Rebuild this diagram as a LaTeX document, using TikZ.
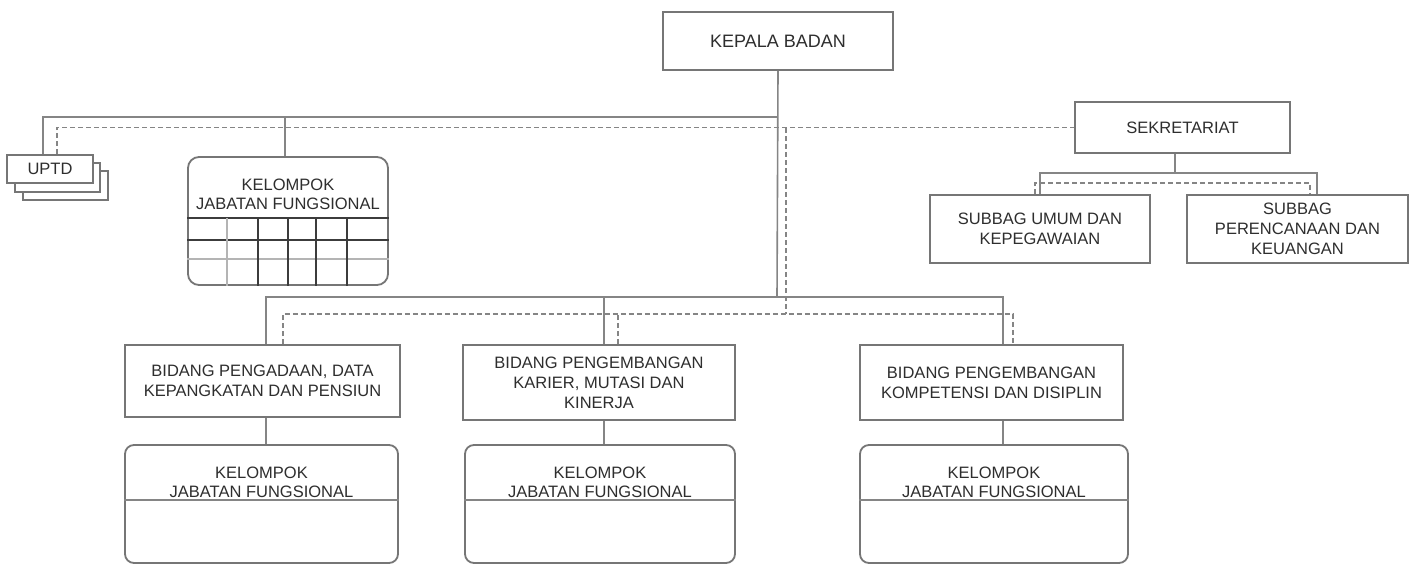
\documentclass[tikz,border=0pt]{standalone}
\usepackage{fontspec}
\setmainfont{Liberation Sans}
\definecolor{boxgray}{HTML}{767676}
\definecolor{linegray}{HTML}{858585}
\definecolor{gridgray}{HTML}{3C3C3C}
\definecolor{lightgrid}{HTML}{B4B4B4}
\definecolor{txt}{HTML}{2E2E2E}
\begin{document}
\begin{tikzpicture}[x=1pt,y=-1pt,
  box/.style={draw=boxgray, line width=1.8pt, fill=white, align=center,
    inner sep=0pt, text=txt, font=\fontsize{16.5}{20}\selectfont},
  rbox/.style={box, rounded corners=11pt},
  lbl/.style={align=center, inner sep=0pt, text=txt, font=\fontsize{16.5}{19}\selectfont},
  solidline/.style={draw=linegray, line width=1.6pt},
  dashline/.style={draw=linegray, line width=1.6pt, dash pattern=on 5pt off 3pt},
  gridline/.style={draw=gridgray, line width=1.4pt},
]
\useasboundingbox (0,0) rectangle (1424,566);
\fill[white] (0,0) rectangle (1424,566);

% head of the agency
\node[box, minimum width=230pt, minimum height=58pt, font=\fontsize{18}{20}\selectfont]
  (kepala) at (778,41) {KEPALA BADAN};

% secretariat and its sub-sections
\node[box, minimum width=215pt, minimum height=51pt] (sek) at (1182.5,127.5) {SEKRETARIAT};
\node[box, minimum width=220pt, minimum height=68pt] (s1) at (1040,229)
  {SUBBAG UMUM DAN\\KEPEGAWAIAN};
\node[box, minimum width=221pt, minimum height=68pt] (s2) at (1297.5,229)
  {SUBBAG\\PERENCANAAN DAN\\KEUANGAN};

% technical units (stacked sheets)
\node[box, minimum width=85pt, minimum height=29pt] (uptd3) at (65.5,185.5) {};
\node[box, minimum width=85pt, minimum height=29pt] (uptd2) at (57.5,177.5) {};
\node[box, minimum width=86pt, minimum height=28pt] (uptd) at (50,169) {UPTD};

% functional group under the head
\node[rbox, minimum width=200pt, minimum height=128pt] (kjf0) at (288,221) {};
\node[lbl] (kjf0t) at (288,194) {KELOMPOK\\JABATAN FUNGSIONAL};
\draw[gridline] (kjf0.west |- 0,218) -- (kjf0.east |- 0,218);
\draw[gridline] (kjf0.west |- 0,240) -- (kjf0.east |- 0,240);
\draw[draw=lightgrid, line width=1.4pt] (kjf0.west |- 0,259) -- (kjf0.east |- 0,259);
\draw[draw=lightgrid, line width=1.4pt] (227,218) -- (227,218 |- kjf0.south);
\foreach \gx in {258,288,316,347}
  \draw[gridline] (\gx,218) -- (\gx,218 |- kjf0.south);

% divisions
\node[box, minimum width=275pt, minimum height=72pt] (b1) at (262.5,381)
  {BIDANG PENGADAAN, DATA\\KEPANGKATAN DAN PENSIUN};
\node[box, minimum width=272pt, minimum height=75pt] (b2) at (599,382.5)
  {BIDANG PENGEMBANGAN\\KARIER, MUTASI DAN\\KINERJA};
\node[box, minimum width=263pt, minimum height=75pt] (b3) at (991.5,382.5)
  {BIDANG PENGEMBANGAN\\KOMPETENSI DAN DISIPLIN};

% functional groups under the divisions
\node[rbox, rounded corners=9pt, minimum width=273pt, minimum height=118pt] (k1) at (261.5,504) {};
\node[rbox, rounded corners=9pt, minimum width=270pt, minimum height=118pt] (k2) at (600,504) {};
\node[rbox, rounded corners=9pt, minimum width=268pt, minimum height=118pt] (k3) at (994,504) {};
\node[lbl] (k1t) at (261.5,482) {KELOMPOK\\JABATAN FUNGSIONAL};
\node[lbl] (k2t) at (600,482) {KELOMPOK\\JABATAN FUNGSIONAL};
\node[lbl] (k3t) at (994,482) {KELOMPOK\\JABATAN FUNGSIONAL};
\foreach \k in {k1,k2,k3}
  \draw[solidline] (\k.west |- 0,500) -- (\k.east |- 0,500);

% junctions of the lines of command
\coordinate (tl) at (777,117);
\coordinate (bt) at (777,297);
\coordinate (sj) at (1175,173);
\coordinate (dj) at (786,128);
\coordinate (dbt) at (786,314);

% lines of command (solid)
\draw[solidline] (kepala.south) -- (bt);
\draw[solidline] (tl) -| ([xshift=-7pt]uptd.north);
\draw[solidline] ([xshift=-3pt]kjf0.north) -- ([xshift=-3pt]kjf0.north |- tl);
\draw[solidline] ([xshift=3.5pt]b1.north) |- (bt) -| ([xshift=11.5pt]b3.north);
\draw[solidline] ([xshift=5pt]b2.north) -- ([xshift=5pt]b2.north |- bt);
\draw[solidline] ([xshift=3.5pt]b1.south) -- ([xshift=3.5pt]b1.south |- k1.north);
\draw[solidline] ([xshift=5pt]b2.south) -- ([xshift=5pt]b2.south |- k2.north);
\draw[solidline] ([xshift=11.5pt]b3.south) -- ([xshift=11.5pt]b3.south |- k3.north);
\draw[solidline] (sek.south -| sj) -- (sj);
\draw[solidline] (s1.north) |- (sj) -| ([xshift=19.5pt]s2.north);

% lines of coordination (dashed)
\draw[dashline] ([xshift=7pt]uptd.north) |- (sek.west);
\draw[dashline] (dj) -- (dbt);
\draw[dashline] ([xshift=20.5pt]b1.north) |- (dbt) -| ([xshift=21.5pt]b3.north);
\draw[dashline] ([xshift=19pt]b2.north) -- ([xshift=19pt]b2.north |- dbt);
\draw[dashline] ([xshift=-5pt]s1.north) -- ++(0,-11) -| ([xshift=12.5pt]s2.north);
\end{tikzpicture}
\end{document}
